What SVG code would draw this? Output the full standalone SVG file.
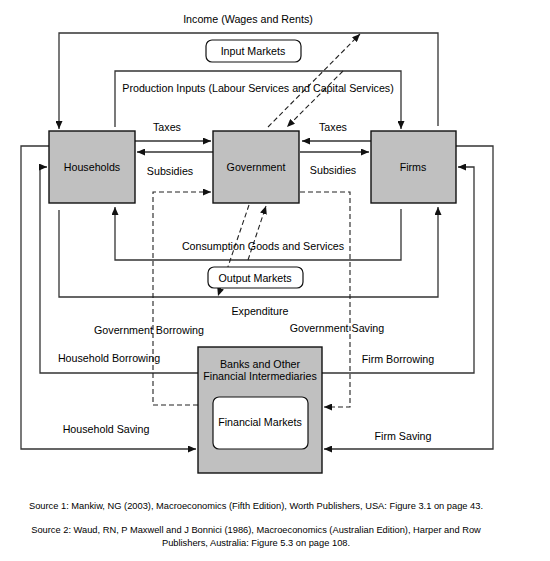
<svg xmlns="http://www.w3.org/2000/svg" width="550" height="561" viewBox="0 0 550 561">
<style>
text{font-family:"Liberation Sans",Arial,sans-serif;font-size:10.7px;fill:#000;text-anchor:middle}
.box{fill:#c0c0c0;stroke:#111;stroke-width:1.4}
.mkt{fill:#fff;stroke:#111;stroke-width:1.2}
.c{fill:none;stroke:#333;stroke-width:1.3}
.d{fill:none;stroke:#222;stroke-width:1.1;stroke-dasharray:5,3}
.src{font-size:9.3px}
</style>
<defs>
<marker id="a" markerUnits="userSpaceOnUse" markerWidth="8" markerHeight="7" refX="8" refY="3.5" orient="auto">
<path d="M0,0 L8,3.5 L0,7 z" fill="#111"/>
</marker>
</defs>
<rect width="550" height="561" fill="#fff"/>
<g id="connectors">
<path class="c" d="M438,126 V33 H59 V129" marker-end="url(#a)"/>
<path class="c" d="M115,127 V71 H401 V129" marker-end="url(#a)"/>
<path class="c" d="M135,141 H211" marker-end="url(#a)"/>
<path class="c" d="M213,152 H137" marker-end="url(#a)"/>
<path class="c" d="M371,141 H302" marker-end="url(#a)"/>
<path class="c" d="M300,152 H369" marker-end="url(#a)"/>
<path class="c" d="M49,146 H21 V449 H196" marker-end="url(#a)"/>
<path class="c" d="M198,373 H40 V167 H47" marker-end="url(#a)"/>
<path class="c" d="M456,146 H493 V449 H324" marker-end="url(#a)"/>
<path class="c" d="M322,373 H474 V167 H458" marker-end="url(#a)"/>
<path class="c" d="M401,209 V260 H115 V207" marker-end="url(#a)"/>
<path class="c" d="M59,210 V297 H438 V207" marker-end="url(#a)"/>
<path class="d" d="M198,405 H153 V192 H211" marker-end="url(#a)"/>
<path class="d" d="M300,192 H350 V407 H324" marker-end="url(#a)"/>
<path class="d" d="M268,127 L360,34" marker-end="url(#a)"/>
<path class="d" d="M343,71 L287,127" marker-end="url(#a)"/>
<path class="d" d="M249,205 L218,296" marker-end="url(#a)"/>
<path class="d" d="M248,260 L266,206" marker-end="url(#a)"/>
</g>
<g id="households"><rect class="box" x="49" y="131" width="86" height="72"/><text x="92" y="171">Households</text></g>
<g id="government"><rect class="box" x="213" y="131" width="86" height="72"/><text x="256" y="171">Government</text></g>
<g id="firms"><rect class="box" x="371" y="131" width="85" height="72"/><text x="413" y="171">Firms</text></g>
<g id="input-markets"><rect class="mkt" x="206" y="40" width="95" height="22" rx="6"/><text x="253" y="55">Input Markets</text></g>
<g id="output-markets"><rect class="mkt" x="208" y="267" width="95" height="21" rx="6"/><text x="255" y="282">Output Markets</text></g>
<g id="banks"><rect class="box" x="198" y="347" width="124" height="126"/><text x="260" y="368">Banks and Other</text><text x="260" y="380">Financial Intermediaries</text>
<g id="financial-markets"><rect class="mkt" x="213" y="397" width="95" height="52" rx="6"/><text x="260" y="426">Financial Markets</text></g></g>
<g id="labels">
<text x="248" y="23">Income (Wages and Rents)</text>
<text x="258" y="92">Production Inputs (Labour Services and Capital Services)</text>
<text x="167" y="131">Taxes</text>
<text x="170" y="175">Subsidies</text>
<text x="333" y="131">Taxes</text>
<text x="333" y="174">Subsidies</text>
<text x="263" y="250">Consumption Goods and Services</text>
<text x="260" y="315">Expenditure</text>
<text x="149" y="334">Government Borrowing</text>
<text x="337" y="332">Government Saving</text>
<text x="109" y="362">Household Borrowing</text>
<text x="398" y="363">Firm Borrowing</text>
<text x="106" y="433">Household Saving</text>
<text x="403" y="440">Firm Saving</text>
</g>
<g id="sources">
<text class="src" x="256" y="509">Source 1: Mankiw, NG (2003), Macroeconomics (Fifth Edition), Worth Publishers, USA: Figure 3.1 on page 43.</text>
<text class="src" x="256" y="533">Source 2: Waud, RN, P Maxwell and J Bonnici (1986), Macroeconomics (Australian Edition), Harper and Row</text>
<text class="src" x="256" y="546">Publishers, Australia: Figure 5.3 on page 108.</text>
</g>
</svg>
